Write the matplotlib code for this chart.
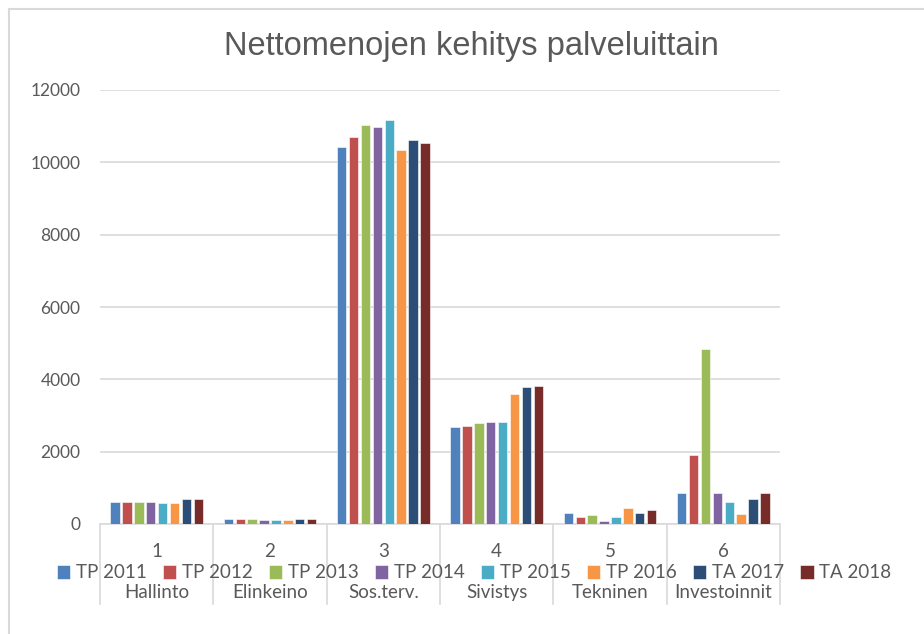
import numpy as np
import matplotlib.pyplot as plt
from matplotlib.lines import Line2D

plt.rcParams['font.family'] = ['Lato', 'DejaVu Sans']

# category labels (two levels)
nums = ['1', '2', '3', '4', '5', '6']
names = ['Hallinto', 'Elinkeino', 'Sos.terv.', 'Sivistys', 'Tekninen', 'Investoinnit']

series = ['TP 2011', 'TP 2012', 'TP 2013', 'TP 2014', 'TP 2015', 'TP 2016', 'TA 2017', 'TA 2018']
colors = ['#4F81BD', '#C0504D', '#9BBB59', '#8064A2', '#4BACC6', '#F79646', '#2C4D75', '#772C2A']

tp2011 = [610, 140, 10415, 2690, 310, 845]
tp2012 = [600, 140, 10710, 2715, 200, 1895]
tp2013 = [600, 140, 11045, 2795, 250, 4825]
tp2014 = [600, 115, 10970, 2815, 85, 845]
tp2015 = [580, 110, 11165, 2815, 200, 620]
tp2016 = [580, 110, 10330, 3600, 450, 285]
ta2017 = [690, 140, 10630, 3790, 315, 700]
ta2018 = [690, 140, 10525, 3820, 395, 870]
values = [tp2011, tp2012, tp2013, tp2014, tp2015, tp2016, ta2017, ta2018]

txt = '#595959'
grid = '#D9D9D9'

fig = plt.figure(figsize=(9.24, 6.34), dpi=100)
ax = fig.add_axes([100/924, 110/634, 680/924, 434/634])

x = np.arange(len(nums))
pitch = 0.105
for i, (s, v) in enumerate(zip(series, values)):
    ax.bar(x + (i - 3.5) * pitch, v, width=0.083, color=colors[i], label=s,
           edgecolor='white', linewidth=0.4, zorder=3)

ax.set_xlim(-0.5, 5.5)
ax.set_ylim(0, 12000)
ax.set_yticks(range(0, 12001, 2000))
ax.yaxis.grid(True, color=grid, linewidth=1.2)
ax.set_axisbelow(True)
for sp in ['top', 'right', 'left']:
    ax.spines[sp].set_visible(False)
ax.spines['bottom'].set_color(grid)
ax.spines['bottom'].set_linewidth(1.2)
ax.tick_params(axis='y', length=0, pad=14, labelsize=12.5, labelcolor=txt)
ax.set_xticks([])

# two-level category axis
tr = ax.get_xaxis_transform()
for b in np.arange(-0.5, 6, 1.0):
    ax.plot([b, b], [0, -0.184], transform=tr, color=grid, linewidth=1.2, clip_on=False)
for xi, n, nm in zip(x, nums, names):
    ax.text(xi, -0.064, n, transform=tr, ha='center', va='center', fontsize=13.5, color=txt)
    ax.text(xi, -0.157, nm, transform=tr, ha='center', va='center', fontsize=13.5, color=txt)

fig.legend(loc='center', bbox_to_anchor=(474/924, 1 - 573/634), ncol=8, frameon=False,
           fontsize=13.5, labelcolor=txt, handlelength=0.7, handleheight=0.7,
           handletextpad=0.3, columnspacing=0.88, borderaxespad=0)

fig.text(471/924, 1 - 46/634, 'Nettomenojen kehitys palveluittain', ha='center', va='center',
         fontsize=23.5, color=txt, family=['Liberation Sans Narrow', 'Liberation Sans'])

# outer chart border (partly cropped)
fig.add_artist(Line2D([9/924, 9/924], [0, 1 - 9/634], color=grid, linewidth=1.5))
fig.add_artist(Line2D([9/924, 1], [1 - 9/634, 1 - 9/634], color=grid, linewidth=1.5))

fig.savefig('out.png', dpi=100)
